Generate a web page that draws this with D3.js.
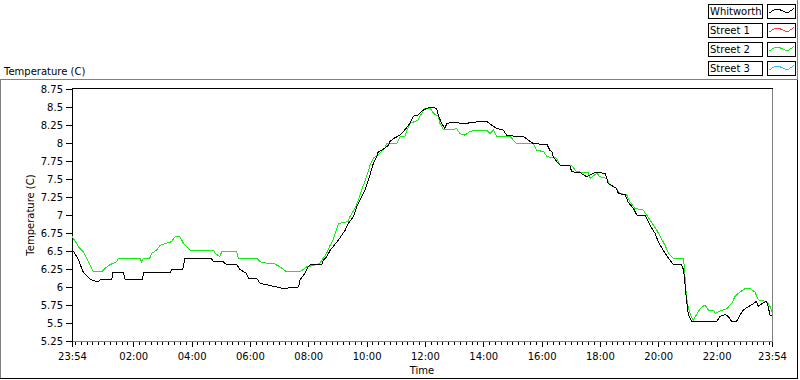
<!DOCTYPE html>
<html>
<head>
<meta charset="utf-8">
<script src="https://cdn.jsdelivr.net/npm/d3@7"></script>
<style>
  html, body { margin: 0; padding: 0; background: #fff; }
  svg { display: block; font-family: 'DejaVu Sans', sans-serif; font-size: 10px; }
</style>
</head>
<body>
<figure style="margin:0"></figure>
<script>
const width = 800
const height = 380

// readings as [minutes since 23:54, temperature in C]
const whitworth = [
  [0, 6.5], [4, 6.49], [13, 6.38], [23, 6.21], [37, 6.11], [52, 6.07], [61, 6.11], [82, 6.11],
  [84, 6.2], [106, 6.2], [109, 6.11], [145, 6.11], [147, 6.2], [202, 6.2], [206, 6.25], [228, 6.25],
  [232, 6.39], [287, 6.39], [291, 6.35], [311, 6.35], [318, 6.31], [339, 6.31], [346, 6.24],
  [359, 6.19], [363, 6.12], [380, 6.12], [387, 6.05], [401, 6.03], [421, 6.0], [435, 5.98],
  [466, 6.0], [469, 6.1], [479, 6.19], [486, 6.28], [490, 6.31], [514, 6.31], [517, 6.37],
  [524, 6.42], [531, 6.51], [537, 6.56], [548, 6.65], [562, 6.79], [568, 6.88], [579, 6.98],
  [586, 7.12], [596, 7.25], [603, 7.35], [610, 7.49], [617, 7.65], [620, 7.72], [627, 7.81],
  [630, 7.88], [640, 7.91], [651, 7.97], [654, 8.02], [661, 8.06], [675, 8.11], [682, 8.16],
  [695, 8.27], [702, 8.37], [712, 8.39], [723, 8.46], [730, 8.48], [740, 8.5], [750, 8.48],
  [754, 8.37], [761, 8.27], [767, 8.2], [771, 8.27], [784, 8.29], [805, 8.27], [819, 8.28],
  [839, 8.3], [853, 8.3], [863, 8.25], [874, 8.2], [887, 8.18], [894, 8.11], [915, 8.09],
  [928, 8.09], [935, 8.06], [949, 7.99], [977, 7.98], [983, 7.9], [987, 7.88], [990, 7.81],
  [1000, 7.72], [1004, 7.69], [1024, 7.69], [1028, 7.6], [1045, 7.59], [1059, 7.53],
  [1076, 7.59], [1097, 7.58], [1103, 7.44], [1120, 7.37], [1124, 7.3], [1138, 7.28],
  [1144, 7.18], [1155, 7.09], [1162, 7.0], [1179, 7.0], [1189, 6.86], [1199, 6.75],
  [1206, 6.63], [1216, 6.51], [1227, 6.4], [1237, 6.31], [1254, 6.31], [1258, 6.24],
  [1261, 6.05], [1264, 5.82], [1268, 5.61], [1275, 5.52], [1326, 5.52], [1333, 5.59],
  [1344, 5.62], [1350, 5.59], [1357, 5.52], [1367, 5.52], [1374, 5.61], [1381, 5.68],
  [1392, 5.73], [1402, 5.77], [1408, 5.8], [1412, 5.73], [1422, 5.78], [1429, 5.8],
  [1432, 5.73], [1436, 5.61], [1440, 5.61]
]

const street2 = [
  [0, 6.7], [10, 6.6], [13, 6.56], [23, 6.49], [34, 6.35], [44, 6.21], [61, 6.21], [68, 6.26],
  [78, 6.31], [92, 6.35], [95, 6.4], [140, 6.4], [143, 6.35], [147, 6.4], [160, 6.4],
  [164, 6.47], [174, 6.51], [181, 6.58], [205, 6.63], [212, 6.7], [222, 6.7], [229, 6.61],
  [243, 6.51], [291, 6.51], [294, 6.47], [304, 6.42], [308, 6.49], [339, 6.49], [342, 6.4],
  [380, 6.4], [387, 6.35], [401, 6.33], [414, 6.33], [428, 6.28], [442, 6.21], [469, 6.21],
  [483, 6.28], [503, 6.31], [510, 6.33], [517, 6.4], [524, 6.47], [531, 6.58], [537, 6.65],
  [548, 6.88], [568, 6.91], [572, 6.98], [582, 7.09], [589, 7.21], [596, 7.35], [606, 7.53],
  [613, 7.69], [620, 7.79], [634, 7.86], [644, 7.93], [647, 7.99], [668, 7.99], [675, 8.09],
  [685, 8.09], [689, 8.18], [695, 8.27], [712, 8.32], [719, 8.41], [726, 8.48], [737, 8.48],
  [744, 8.41], [754, 8.37], [757, 8.27], [764, 8.19], [784, 8.19], [791, 8.2], [798, 8.13],
  [808, 8.11], [819, 8.16], [833, 8.18], [853, 8.18], [860, 8.13], [867, 8.18], [874, 8.09],
  [901, 8.09], [915, 7.99], [949, 7.99], [956, 7.9], [970, 7.88], [977, 7.81], [997, 7.79],
  [1004, 7.69], [1028, 7.69], [1038, 7.6], [1062, 7.59], [1066, 7.51], [1080, 7.58],
  [1086, 7.53], [1100, 7.51], [1107, 7.42], [1120, 7.37], [1127, 7.3], [1141, 7.28],
  [1148, 7.18], [1158, 7.09], [1175, 7.07], [1182, 7.0], [1193, 6.89], [1203, 6.79],
  [1210, 6.7], [1220, 6.58], [1227, 6.47], [1237, 6.4], [1258, 6.4], [1261, 6.14],
  [1264, 5.87], [1268, 5.7], [1275, 5.57], [1278, 5.54], [1292, 5.7], [1302, 5.75],
  [1309, 5.68], [1320, 5.68], [1323, 5.63], [1330, 5.66], [1347, 5.7], [1357, 5.77],
  [1364, 5.87], [1374, 5.93], [1385, 5.98], [1395, 5.98], [1405, 5.93], [1412, 5.82],
  [1429, 5.8], [1436, 5.73], [1440, 5.66]
]

const legendNames = ['Whitworth', 'Street 1', 'Street 2', 'Street 3']
const legendColors = ['#000000', '#ff3b3b', '#14ee14', '#33bbff']

const xTickLabels = ['23:54', '02:00', '04:00', '06:00', '08:00', '10:00', '12:00',
  '14:00', '16:00', '18:00', '20:00', '22:00', '23:54']
const yTickValues = [5.25, 5.5, 5.75, 6, 6.25, 6.5, 6.75, 7, 7.25, 7.5, 7.75, 8, 8.25, 8.5, 8.75]

const start = new Date(2000, 0, 1, 23, 54)
const at = m => d3.timeMinute.offset(start, m)

const plot = { left: 72, right: 772, top: 89, bottom: 341 }

const x = d3.scaleTime()
  .domain([at(0), at(1440)])
  .range([plot.left, plot.right])

const y = d3.scaleLinear()
  .domain([5.25, 8.75])
  .range([plot.bottom, plot.top])

const svg = d3.select('figure').append('svg')
  .attr('width', width)
  .attr('height', height)

// outer panel frame
const frame = svg.append('g').attr('shape-rendering', 'crispEdges')
frame.append('line').attr('x1', 0).attr('x2', 797).attr('y1', 79.5).attr('y2', 79.5).attr('stroke', '#808080')
frame.append('line').attr('x1', 0.5).attr('x2', 0.5).attr('y1', 80).attr('y2', 379).attr('stroke', '#808080')
frame.append('line').attr('x1', 797.5).attr('x2', 797.5).attr('y1', 0).attr('y2', 80).attr('stroke', '#808080')
frame.append('line').attr('x1', 0).attr('x2', 798).attr('y1', 378.5).attr('y2', 378.5).attr('stroke', '#000')
frame.append('line').attr('x1', 797.5).attr('x2', 797.5).attr('y1', 80).attr('y2', 379).attr('stroke', '#000')

svg.append('text')
  .attr('x', 4)
  .attr('y', 75)
  .text('Temperature (C)')

// plot box
frame.append('line').attr('x1', plot.right + 0.5).attr('x2', plot.right + 0.5)
  .attr('y1', plot.top).attr('y2', plot.bottom + 1).attr('stroke', '#808080')
frame.append('line').attr('x1', plot.left).attr('x2', plot.right + 1)
  .attr('y1', plot.bottom + 0.5).attr('y2', plot.bottom + 0.5).attr('stroke', '#808080')
frame.append('line').attr('x1', plot.left).attr('x2', plot.right + 1)
  .attr('y1', plot.top - 0.5).attr('y2', plot.top - 0.5).attr('stroke', '#000')
frame.append('line').attr('x1', plot.left + 0.5).attr('x2', plot.left + 0.5)
  .attr('y1', plot.top - 1).attr('y2', plot.bottom + 1).attr('stroke', '#000')

// x axis: minor ticks every 12 minutes, major every 2 hours
const minorTicks = d3.range(6, 1440, 12).map(at)
const majorTicks = [0, ...d3.range(126, 1440, 120), 1440].map(at)

svg.append('g')
  .attr('transform', `translate(0,${plot.bottom + 1})`)
  .call(d3.axisBottom(x).tickValues(minorTicks).tickSize(3).tickFormat(''))
  .call(g => g.select('.domain').remove())

svg.append('g')
  .attr('transform', `translate(0,${plot.bottom + 1})`)
  .call(d3.axisBottom(x).tickValues(majorTicks).tickSize(5).tickPadding(6)
    .tickFormat((d, i) => xTickLabels[i]))
  .call(g => g.select('.domain').remove())

svg.append('g')
  .attr('transform', `translate(${plot.left},0)`)
  .call(d3.axisLeft(y).tickValues(yTickValues).tickSize(6).tickPadding(3)
    .tickFormat(d => String(d)))
  .call(g => g.select('.domain').remove())

svg.selectAll('.tick line').attr('shape-rendering', 'crispEdges')
svg.selectAll('.tick text').attr('font-family', 'DejaVu Sans, sans-serif').attr('font-size', 10).attr('fill', '#000')

svg.append('text')
  .attr('transform', `translate(34,${(plot.top + plot.bottom) / 2}) rotate(-90)`)
  .attr('text-anchor', 'middle')
  .text('Temperature (C)')

svg.append('text')
  .attr('x', (plot.left + plot.right) / 2)
  .attr('y', 374)
  .attr('text-anchor', 'middle')
  .text('Time')

// lines, drawn thin and aliased like the source instrument
const line = d3.line()
  .x(d => x(at(d[0])))
  .y(d => y(d[1]))

svg.append('path')
  .datum(street2)
  .attr('fill', 'none')
  .attr('stroke', legendColors[2])
  .attr('stroke-width', 1)
  .attr('shape-rendering', 'crispEdges')
  .attr('d', line)

svg.append('path')
  .datum(whitworth)
  .attr('fill', 'none')
  .attr('stroke', legendColors[0])
  .attr('stroke-width', 1)
  .attr('shape-rendering', 'crispEdges')
  .attr('d', line)

// legend
const sample = [[2, 9], [7, 6], [11, 5], [16, 7], [20, 9], [25, 6], [27, 4]]
const legend = svg.append('g')
  .selectAll('g')
  .data(legendNames)
  .join('g')
  .attr('transform', (d, i) => `translate(708,${4 + i * 19})`)

legend.append('rect')
  .attr('x', 0.5).attr('y', 0.5)
  .attr('width', 54).attr('height', 14)
  .attr('fill', '#fff').attr('stroke', '#000')
  .attr('shape-rendering', 'crispEdges')

legend.append('text')
  .attr('x', 2)
  .attr('y', 11)
  .text(d => d)

legend.append('rect')
  .attr('x', 59.5).attr('y', 0.5)
  .attr('width', 28).attr('height', 14)
  .attr('fill', '#fff').attr('stroke', '#000')
  .attr('shape-rendering', 'crispEdges')

legend.append('path')
  .attr('transform', 'translate(59,0)')
  .attr('fill', 'none')
  .attr('stroke', (d, i) => legendColors[i])
  .attr('shape-rendering', 'crispEdges')
  .attr('d', d3.line()(sample))
</script>
</body>
</html>
